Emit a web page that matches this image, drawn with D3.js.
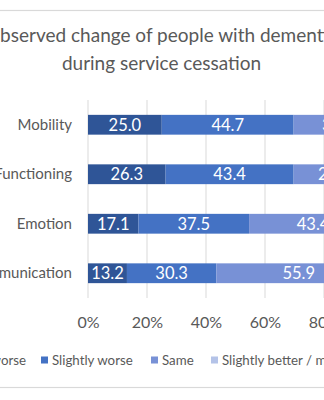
<!DOCTYPE html>
<html>
<head>
<meta charset="utf-8">
<script src="https://cdn.jsdelivr.net/npm/d3@7"></script>
<style>
  body { margin: 0; background: #fff; }
  svg { display: block; overflow: hidden; }
  text { font-family: Lato, "Open Sans", sans-serif; }
</style>
</head>
<body>
<div id="chart"></div>
<script>
// categories, top to bottom
let categories = ["Mobility", "Functioning", "Emotion", "Communication"];
let seriesNames = ["Much worse", "Slightly worse", "Same", "Slightly better / much better"];
// percentages per series, same order as categories
let muchWorse = [25.0, 26.3, 17.1, 13.2];
let slightlyWorse = [44.7, 43.4, 37.5, 30.3];
let same = [30.3, 27.6, 43.4, 55.9];
let better = [0.0, 2.6, 2.0, 0.6];
let xTicks = [0, 20, 40, 60, 80, 100];
let titleLines = ["Observed change of people with dementia", "during service cessation"];

let colors = ["#2f5597", "#4472c4", "#7891d6", "#b4c3e8"];

let width = 324;
let height = 400;
let centerX = 161.5;

let svg = d3.select("#chart")
    .append("svg")
    .attr("width", width)
    .attr("height", height);

// chart border (only top and bottom edges are visible)
svg.append("rect")
    .attr("x", -200)
    .attr("y", 10.5)
    .attr("width", 800)
    .attr("height", 377)
    .attr("fill", "none")
    .attr("stroke", "#d9d9d9")
    .attr("stroke-width", 1.2);

// title
svg.selectAll(".title")
    .data(titleLines)
    .enter()
    .append("text")
    .attr("class", "title")
    .attr("x", centerX)
    .attr("y", function (d, i) { return 41.5 + i * 28; })
    .attr("text-anchor", "middle")
    .style("font-size", "19px")
    .style("fill", "#595959")
    .text(function (d) { return d; });

let xScale = d3.scaleLinear()
    .domain([0, 100])
    .range([88, 383]);

let yScale = d3.scaleBand()
    .domain(categories)
    .range([100, 298])
    .paddingInner(0.6)
    .paddingOuter(0.3);

// gridlines
svg.selectAll(".grid")
    .data(xTicks)
    .enter()
    .append("line")
    .attr("class", "grid")
    .attr("x1", function (d) { return xScale(d); })
    .attr("x2", function (d) { return xScale(d); })
    .attr("y1", 100)
    .attr("y2", 298)
    .attr("stroke", "#d9d9d9")
    .attr("stroke-width", 1);

// x axis labels
let xAxis = d3.axisBottom(xScale)
    .tickValues(xTicks)
    .tickSize(0)
    .tickPadding(0)
    .tickFormat(function (d) { return d + "%"; });

let gx = svg.append("g")
    .attr("transform", "translate(0,317)")
    .call(xAxis);
gx.select(".domain").remove();
gx.selectAll("text")
    .style("font-size", "16px")
    .style("fill", "#595959")
    .style("font-family", "Lato, sans-serif");

// y axis labels
let yAxis = d3.axisLeft(yScale)
    .tickSize(0)
    .tickPadding(16);

let gy = svg.append("g")
    .attr("transform", "translate(88,0)")
    .call(yAxis);
gy.select(".domain").remove();
gy.selectAll("text")
    .style("font-size", "15px")
    .style("fill", "#595959")
    .style("font-family", "Lato, sans-serif");

// stack the series
let rows = categories.map(function (c, i) {
    return { category: c, s0: muchWorse[i], s1: slightlyWorse[i], s2: same[i], s3: better[i] };
});
let stack = d3.stack().keys(["s0", "s1", "s2", "s3"]);
let stacked = stack(rows);

let layers = svg.selectAll(".layer")
    .data(stacked)
    .enter()
    .append("g")
    .attr("class", "layer")
    .attr("fill", function (d, i) { return colors[i]; });

layers.selectAll("rect")
    .data(function (d) { return d; })
    .enter()
    .append("rect")
    .attr("x", function (d) { return xScale(d[0]); })
    .attr("y", function (d) { return yScale(d.data.category); })
    .attr("width", function (d) { return xScale(d[1]) - xScale(d[0]); })
    .attr("height", yScale.bandwidth());

// value labels (only the first three series carry labels)
layers.filter(function (d, i) { return i < 3; })
    .selectAll(".val")
    .data(function (d) { return d; })
    .enter()
    .append("text")
    .attr("class", "val")
    .attr("x", function (d) { return (xScale(d[0]) + xScale(d[1])) / 2; })
    .attr("y", function (d) { return yScale(d.data.category) + yScale.bandwidth() / 2; })
    .attr("dy", "0.36em")
    .attr("text-anchor", "middle")
    .style("font-size", "16.5px")
    .style("fill", "#ffffff")
    .text(function (d) { return (d[1] - d[0]).toFixed(1); });

// legend
let legendX = [-57, 41, 151, 211];
let legend = svg.selectAll(".legend")
    .data(seriesNames)
    .enter()
    .append("g")
    .attr("class", "legend")
    .attr("transform", function (d, i) { return "translate(" + legendX[i] + ",360)"; });

legend.append("rect")
    .attr("x", 0)
    .attr("y", -3.5)
    .attr("width", 7)
    .attr("height", 7)
    .attr("fill", function (d, i) { return colors[i]; });

legend.append("text")
    .attr("x", 11)
    .attr("y", 0)
    .attr("dy", "0.35em")
    .style("font-size", "13.3px")
    .style("fill", "#595959")
    .text(function (d) { return d; });
</script>
</body>
</html>
